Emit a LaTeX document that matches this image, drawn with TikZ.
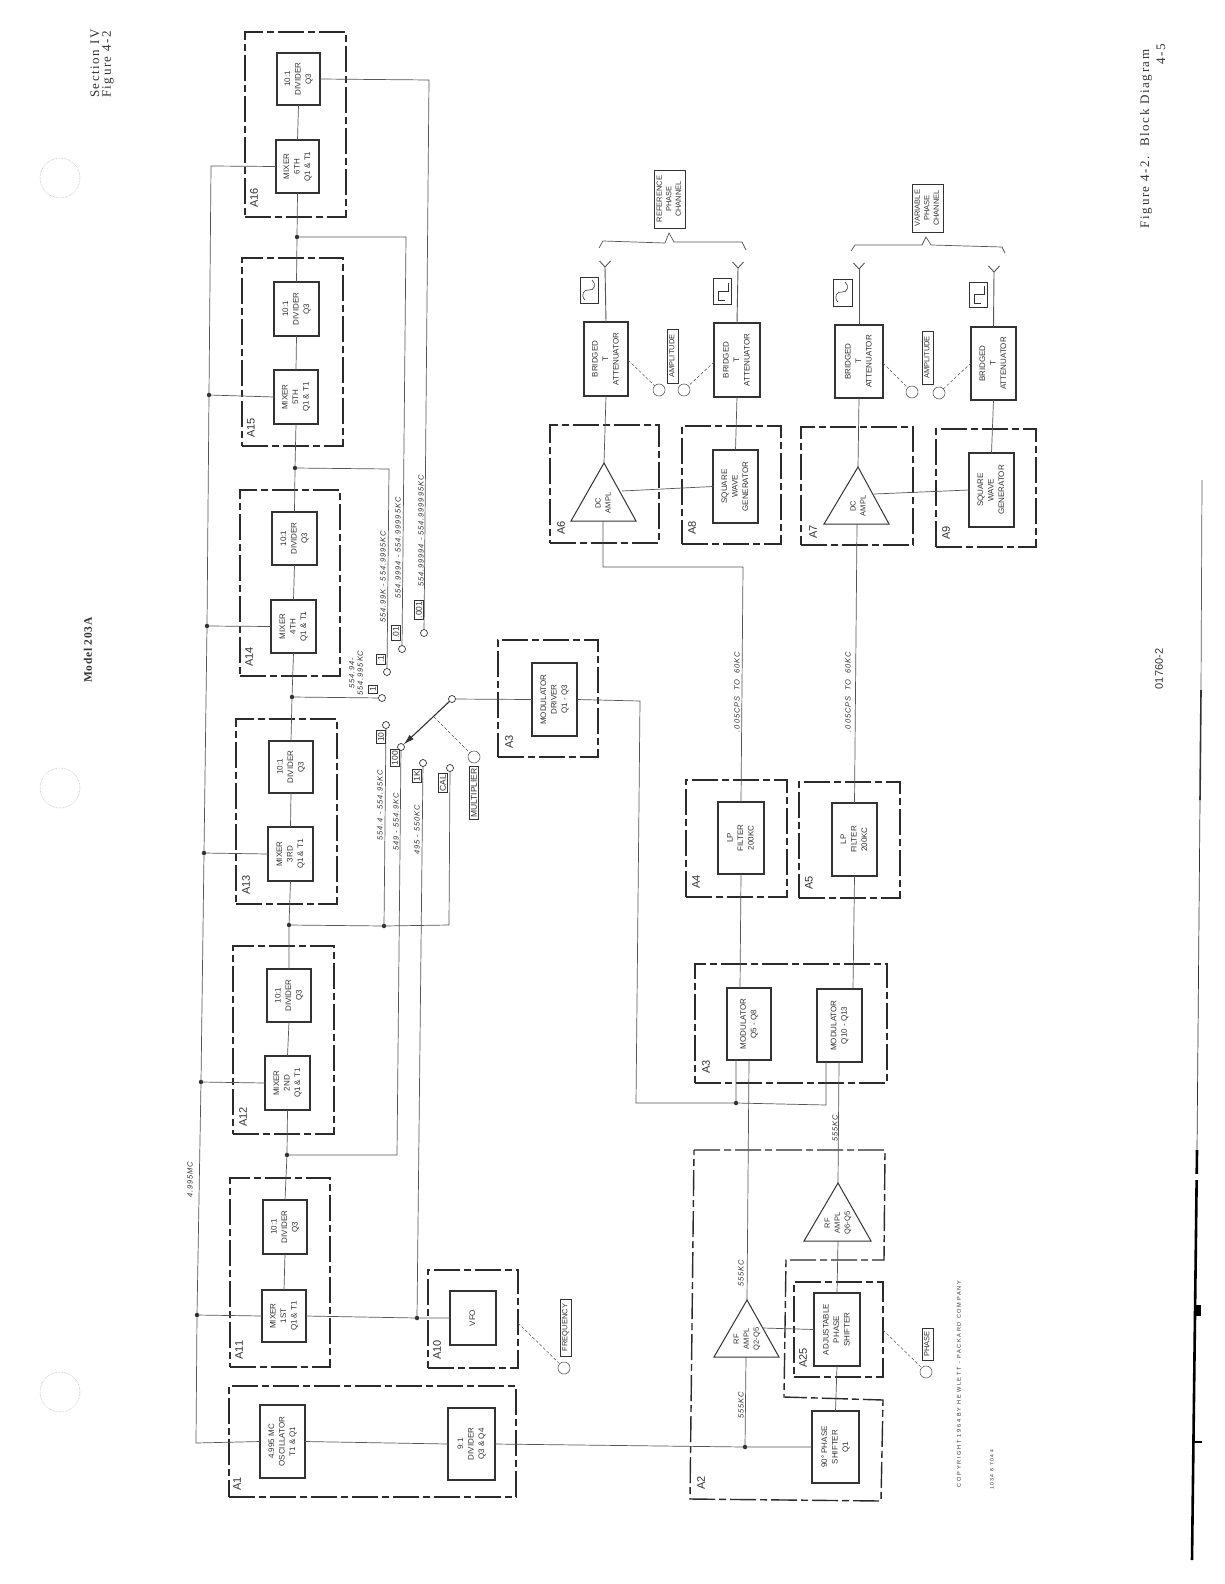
\documentclass[tikz,border=0pt]{standalone}
\usepackage{fontspec}
\setmainfont{Liberation Sans}
\newfontfamily\margfont[LetterSpace=12]{Liberation Serif}
\newfontfamily\modelfont[LetterSpace=6]{Liberation Serif}
\newfontfamily\freqfont[LetterSpace=12]{Liberation Sans}
\newfontfamily\copyfont[LetterSpace=30]{Liberation Sans}
\usetikzlibrary{arrows.meta}
\definecolor{ink}{HTML}{333333}
\definecolor{wire}{HTML}{555555}
\newcommand{\rt}[1]{\rotatebox{90}{\begin{tabular}{@{}c@{}}#1\end{tabular}}}
\newcommand{\bx}[7]{%
  \pgfmathsetmacro\myCx{(#3+#4)/2}\pgfmathsetmacro\myCy{(#5+#6)/2}%
  \pgfmathsetmacro\myW{#4-#3}\pgfmathsetmacro\myH{#6-#5}%
  \node[#1,minimum width=\myW pt,minimum height=\myH pt] (#2) at (\myCx,\myCy) {#7};}
\newcommand{\sinew}[2]{\draw[wave,shift={(#1,#2)}] (-4,10) .. controls (-9,5) and (-5,-1) .. (0,0) .. controls (5,1) and (8,-6) .. (3,-10);}
\newcommand{\squarew}[2]{\draw[wave,shift={(#1,#2)}] (6.5,-8) -- (6.5,0) -- (-4,0) -- (-4,9) -- (3,9);}
\tikzset{
  every node/.style={inner sep=0pt,outer sep=0pt,text=ink},
  blk/.style={draw=ink,fill=white,line width=1.1pt,font=\fontsize{8}{10.5}\selectfont},
  grp/.style={draw=ink!85!black,line width=1.2pt,dash pattern=on 26pt off 4pt on 7pt off 4pt},
  grplab/.style={rotate=90,font=\fontsize{11}{13}\selectfont},
  conn/.style={draw=wire,line width=0.7pt},
  tri/.style={draw=ink,line width=1pt,line join=miter,fill=white},
  dotj/.style={circle,fill=ink,minimum size=4.5pt},
  term/.style={circle,draw=ink,line width=0.7pt,fill=white,minimum size=7pt},
  knob/.style={circle,draw=ink!80,line width=0.6pt,fill=white,minimum size=12pt},
  lab/.style={rotate=90,draw=ink,line width=0.6pt,fill=white,inner sep=1.5pt,font=\fontsize{8.5}{10}\selectfont,align=center},
  plate/.style={draw=ink,line width=0.6pt,font=\fontsize{7.5}{9.5}\selectfont},
  freq/.style={rotate=90,font=\freqfont\itshape\fontsize{7.5}{8.5}\selectfont,align=center},
  intxt/.style={rotate=90,font=\fontsize{7.5}{10}\selectfont,align=center},
  ctl/.style={draw=wire,line width=0.5pt,densely dashed},
  wave/.style={draw=ink,line width=0.6pt},
  marg/.style={rotate=90,font=\margfont\fontsize{13}{15}\selectfont,text=ink,align=left},
  hole/.style={circle,draw=gray!70,line width=0.5pt,densely dotted,minimum size=40pt},
}
\begin{document}
\begin{tikzpicture}[x=1pt,y=-1pt]
\useasboundingbox (0,0) rectangle (1224,1584);
\fill[white] (0,0) rectangle (1224,1584);

% page furniture
\node[hole] (h1) at (60,178) {};
\node[hole] (h2) at (60,788) {};
\node[hole] (h3) at (60,1392) {};
\node[marg,anchor=west] (m1) at (95,98) {Section IV};
\node[marg,anchor=west] (m2) at (108,98) {Figure 4-2};
\node[marg,font=\modelfont\bfseries\fontsize{11.5}{13}\selectfont] (m3) at (88,650) {Model 203A};
\node[marg,anchor=west] (m4) at (1146,228) {Figure 4-2.~~Block Diagram};
\node[marg] (m5) at (1161,54) {4-5};
\node[rotate=90,font=\fontsize{11}{13}\selectfont] (m6) at (1159,669) {01760-2};
\draw[gray!70!black,line width=0.7pt] (1202,480) -- (1201,690);
\draw[ink,line width=1.6pt] (1201,690) -- (1200,800);
\draw[ink,line width=0.7pt] (1200,800) -- (1197,1150);
\draw[black,line width=2.6pt] (1197,1150) -- (1192,1560);
\fill[white] (1193,1174) rectangle (1204,1180);
\fill[black] (1194,1305) rectangle (1201,1316);
\draw[black,line width=1.4pt] (1194,1442) -- (1202,1442);

% groups
\bx{grp}{A16}{245}{346}{32}{217}{}
\bx{grp}{A15}{242}{343}{258}{446}{}
\bx{grp}{A14}{240}{340}{490}{676}{}
\bx{grp}{A13}{236}{337}{719}{904}{}
\bx{grp}{A12}{233}{334}{946}{1134}{}
\bx{grp}{A11}{230}{330}{1178}{1367}{}
\bx{grp}{A10}{428}{518}{1270}{1368}{}
\bx{grp}{A1}{229}{516}{1386}{1497}{}
\bx{grp}{A3d}{498}{598}{640}{757}{}
\bx{grp}{A4}{686}{787}{780}{897}{}
\bx{grp}{A5}{799}{900}{782}{898}{}
\bx{grp}{A3m}{695}{887}{964}{1083}{}
\bx{grp}{A6}{550}{659}{425}{543}{}
\bx{grp}{A8}{682}{781}{426}{544}{}
\bx{grp}{A7}{801}{913}{427}{545}{}
\bx{grp}{A9}{936}{1036}{429}{547}{}
\bx{grp}{A25}{794}{883}{1282}{1377}{}
\draw[grp,line width=1.4pt] (694,1150) -- (885,1150) -- (884,1260) -- (786,1260) -- (784,1397) -- (883,1400) -- (881,1501) -- (690,1499) -- cycle;

\node[grplab] (lA16) at (254,198) {A16};
\node[grplab] (lA15) at (251,428) {A15};
\node[grplab] (lA14) at (249,657) {A14};
\node[grplab] (lA13) at (246,885) {A13};
\node[grplab] (lA12) at (243,1117) {A12};
\node[grplab] (lA11) at (239,1350) {A11};
\node[grplab] (lA10) at (437,1350) {A10};
\node[grplab] (lA1) at (237,1484) {A1};
\node[grplab] (lA3d) at (509,742) {A3};
\node[grplab] (lA4) at (696,882) {A4};
\node[grplab] (lA5) at (809,883) {A5};
\node[grplab] (lA3m) at (706,1067) {A3};
\node[grplab] (lA6) at (561,528) {A6};
\node[grplab] (lA8) at (692,528) {A8};
\node[grplab] (lA7) at (813,532) {A7};
\node[grplab] (lA9) at (946,533) {A9};
\node[grplab] (lA2) at (701,1483) {A2};
\node[grplab] (lA25) at (803,1358) {A25};

% blocks
\bx{blk}{div6}{277}{320}{53}{105}{\rt{10:1\\DIVIDER\\Q3}}
\bx{blk}{mix6}{276}{319}{140}{193}{\rt{MIXER\\6TH\\Q1 \& T1}}
\bx{blk}{div5}{274}{319}{282}{336}{\rt{10:1\\DIVIDER\\Q3}}
\bx{blk}{mix5}{274}{318}{370}{424}{\rt{MIXER\\5TH\\Q1 \& T1}}
\bx{blk}{div4}{272}{317}{512}{565}{\rt{10:1\\DIVIDER\\Q3}}
\bx{blk}{mix4}{271}{316}{600}{653}{\rt{MIXER\\4TH\\Q1 \& T1}}
\bx{blk}{div3}{269}{313}{741}{793}{\rt{10:1\\DIVIDER\\Q3}}
\bx{blk}{mix3}{268}{313}{827}{881}{\rt{MIXER\\3RD\\Q1 \& T1}}
\bx{blk}{div2}{267}{311}{969}{1022}{\rt{10:1\\DIVIDER\\Q3}}
\bx{blk}{mix2}{265}{310}{1056}{1110}{\rt{MIXER\\2ND\\Q1 \& T1}}
\bx{blk}{div1}{263}{307}{1200}{1254}{\rt{10:1\\DIVIDER\\Q3}}
\bx{blk}{mix1}{262}{306}{1290}{1342}{\rt{MIXER\\1ST\\Q1 \& T1}}
\bx{blk}{vfo}{450}{496}{1291}{1345}{\rt{VFO}}
\bx{blk}{osc}{260}{305}{1405}{1478}{\rt{4.995 MC\\OSCILLATOR\\T1 \& Q1}}
\bx{blk}{div9}{448}{495}{1408}{1480}{\rt{9:1\\DIVIDER\\Q3 \& Q4}}
\bx{blk}{drv}{532}{577}{663}{736}{\rt{MODULATOR\\DRIVER\\Q1 - Q3}}
\bx{blk}{fil1}{718}{764}{802}{874}{\rt{LP\\FILTER\\200KC}}
\bx{blk}{fil2}{832}{877}{803}{876}{\rt{LP\\FILTER\\200KC}}
\bx{blk}{mod1}{727}{771}{988}{1060}{\rt{MODULATOR\\Q5 - Q8}}
\bx{blk}{mod2}{817}{862}{989}{1062}{\rt{MODULATOR\\Q10 - Q13}}
\bx{blk}{sq1}{713}{758}{450}{523}{\rt{SQUARE\\WAVE\\GENERATOR}}
\bx{blk}{sq2}{969}{1014}{453}{527}{\rt{SQUARE\\WAVE\\GENERATOR}}
\bx{blk}{att1}{584}{628}{322}{396}{\rt{BRIDGED\\T\\ATTENUATOR}}
\bx{blk}{att2}{714}{760}{323}{397}{\rt{BRIDGED\\T\\ATTENUATOR}}
\bx{blk}{att3}{835}{883}{325}{398}{\rt{BRIDGED\\T\\ATTENUATOR}}
\bx{blk}{att4}{971}{1016}{327}{400}{\rt{BRIDGED\\T\\ATTENUATOR}}
\bx{blk}{adj}{814}{860}{1293}{1366}{\rt{ADJUSTABLE\\PHASE\\SHIFTER}}
\bx{blk}{ps90}{812}{859}{1411}{1483}{\rt{90° PHASE\\SHIFTER\\Q1}}

% triangles
\coordinate (t6a) at (604,463); \coordinate (t6l) at (571,521); \coordinate (t6r) at (636,521);
\coordinate (t6b) at (603,521); \coordinate (t6s) at (622,491);
\draw[tri] (t6a) -- (t6r) -- (t6l) -- cycle;
\node[intxt] (t6t) at (603,503) {DC\\AMPL};
\coordinate (t7a) at (858,467); \coordinate (t7l) at (824,524); \coordinate (t7r) at (889,524);
\coordinate (t7b) at (857,524); \coordinate (t7s) at (874,494);
\draw[tri] (t7a) -- (t7r) -- (t7l) -- cycle;
\node[intxt] (t7t) at (858,506) {DC\\AMPL};
\coordinate (r1a) at (747,1300); \coordinate (r1l) at (714,1357); \coordinate (r1r) at (779,1357);
\coordinate (r1b) at (746,1357); \coordinate (r1s) at (763,1328);
\draw[tri] (r1a) -- (r1r) -- (r1l) -- cycle;
\node[intxt] (r1t) at (747,1339) {RF\\AMPL\\Q2-Q5};
\coordinate (r2a) at (838,1183); \coordinate (r2l) at (804,1241); \coordinate (r2r) at (871,1241);
\coordinate (r2b) at (838,1241);
\draw[tri] (r2a) -- (r2r) -- (r2l) -- cycle;
\node[intxt] (r2t) at (838,1223) {RF\\AMPL\\Q6-Q5};

% junction dots and bus
\node[dotj] (b5) at (209,395) {};
\node[dotj] (b4) at (207,626) {};
\node[dotj] (b3) at (204,853) {};
\node[dotj] (b2) at (201,1082) {};
\node[dotj] (b1) at (197,1315) {};
\coordinate (b6) at (211,166);
\coordinate (b0) at (196,1443);
\draw[conn] (mix6.west) -- (b6) -- (b5) -- (b4) -- (b3) -- (b2) -- (b1) -- (b0) -- (osc.west);
\foreach \i in {1,2,3,4,5} {\draw[conn] (b\i) -- (mix\i.west);}

\node[dotj] (j6) at (297,237) {};
\node[dotj] (j5) at (295,468) {};
\node[dotj] (j4) at (292,697) {};
\node[dotj] (j3) at (289,925) {};
\node[dotj] (j2) at (287,1155) {};
\node[dotj] (j10) at (384,926) {};
\node[dotj] (j1k) at (417,1318) {};
\node[dotj] (jm) at (736,1103) {};
\node[dotj] (jp) at (745,1447) {};

\draw[conn] (div6.south) -- (mix6.north);
\draw[conn] (mix6.south) -- (j6) -- (div5.north);
\draw[conn] (div5.south) -- (mix5.north);
\draw[conn] (mix5.south) -- (j5) -- (div4.north);
\draw[conn] (div4.south) -- (mix4.north);
\draw[conn] (mix4.south) -- (j4) -- (div3.north);
\draw[conn] (div3.south) -- (mix3.north);
\draw[conn] (mix3.south) -- (j3) -- (div2.north);
\draw[conn] (div2.south) -- (mix2.north);
\draw[conn] (mix2.south) -- (j2) -- (div1.north);
\draw[conn] (div1.south) -- (mix1.north);
\draw[conn] (osc.east) -- (div9.west);
\draw[conn] (mix1.east) -- (j1k) -- (vfo.west);

% multiplier switch terminals
\node[term] (t1) at (382,698) {};
\node[term] (t01) at (387,672) {};
\node[term] (t001) at (402,649) {};
\node[term] (t0001) at (424,633) {};
\node[term] (t10) at (386,725) {};
\node[term] (t100) at (401,747) {};
\node[term] (t1k) at (423,763) {};
\node[term] (tcal) at (450,768) {};
\node[term] (sw) at (452,699) {};
\coordinate (c01) at (389,469);
\coordinate (c001) at (406,237);
\coordinate (c0001) at (429,80);
\coordinate (ccal) at (449,925);
\coordinate (c100) at (397,1155);
\draw[conn] (j4) -- (t1);
\draw[conn] (j5) -- (c01) -- (t01);
\draw[conn] (j6) -- (c001) -- (t001);
\draw[conn] (div6.east) -- (c0001) -- (t0001);
\draw[conn] (t10) -- (j10);
\draw[conn] (j3) -- (j10) -- (ccal) -- (tcal);
\draw[conn] (t100) -- (c100) -- (j2);
\draw[conn] (t1k) -- (j1k);
\draw[ink,line width=1.1pt,-{Latex[length=11pt,width=6pt]}] (sw) -- (t100);
\node[knob] (kmul) at (474,757) {};
\coordinate (swm) at (434,717);
\draw[ctl] (swm) -- (kmul);

% modulator wiring
\coordinate (cd1) at (640,701);
\coordinate (cd2) at (636,1103);
\coordinate (m1a) at (736,1060);
\coordinate (cm2) at (826,1105);
\coordinate (m2a) at (826,1062);
\coordinate (m1b) at (749,1060);
\coordinate (m2b) at (839,1062);
\coordinate (m1t) at (740,988);
\coordinate (m2t) at (853,989);
\draw[conn] (sw) -- (drv.west);
\draw[conn] (drv.east) -- (cd1) -- (cd2) -- (jm) -- (m1a);
\draw[conn] (jm) -- (cm2) -- (m2a);
\draw[conn] (m1t) -- (fil1.south);
\draw[conn] (m2t) -- (fil2.south);
\coordinate (ca6a) at (603,567);
\coordinate (ca6b) at (743,567);
\draw[conn] (t6b) -- (ca6a) -- (ca6b) -- (fil1.north);
\draw[conn] (t7b) -- (fil2.north);
\draw[conn] (t6a) -- (att1.south);
\draw[conn] (t7a) -- (att3.south);
\draw[conn] (t6s) -- (sq1.west);
\draw[conn] (t7s) -- (sq2.west);
\draw[conn] (sq1.north) -- (att2.south);
\draw[conn] (sq2.north) -- (att4.south);

% outputs
\coordinate (f1) at (605,267); \coordinate (f2) at (738,268);
\coordinate (f3) at (859,269); \coordinate (f4) at (994,272);
\foreach \n/\a in {f1/att1,f2/att2,f3/att3,f4/att4} {
  \draw[conn,line width=0.9pt] (\a.north) -- (\n);
  \draw[conn,line width=0.9pt] (\n) -- +(-5.5,-6);
  \draw[conn,line width=0.9pt] (\n) -- +(5.5,-6);
}
\bx{plate}{w1}{580}{598}{277}{303}{}
\bx{plate}{w2}{713}{731}{278}{304}{}
\bx{plate}{w3}{833}{852}{279}{306}{}
\bx{plate}{w4}{969}{987}{282}{307}{}
\sinew{589}{290}
\squarew{722}{291}
\sinew{842}{292}
\squarew{978}{294}

% braces
\draw[conn] (599,248) -- (603,241) -- (665,243) -- (669,233) -- (674,242) -- (742,242) -- (746,250);
\draw[conn] (851,251) -- (855,245) -- (922,245) -- (926,237) -- (931,245) -- (1002,247) -- (1005,253);
\bx{plate}{chr}{654}{685}{170}{228}{\rt{REFERENCE\\PHASE\\CHANNEL}}
\bx{plate}{chv}{912}{943}{184}{232}{\rt{VARIABLE\\PHASE\\CHANNEL}}
\bx{plate}{amp1}{667}{678}{329}{383}{\rt{AMPLITUDE}}
\bx{plate}{amp2}{922}{933}{331}{384}{\rt{AMPLITUDE}}

% amplitude controls
\node[knob] (k1) at (659,390) {};
\node[knob] (k2) at (684,390) {};
\node[knob] (k3) at (912,392) {};
\node[knob] (k4) at (939,393) {};
\coordinate (a1) at (628,360); \coordinate (a2) at (714,362);
\coordinate (a3) at (883,363); \coordinate (a4) at (971,363);
\draw[ctl] (a1) -- (k1);
\draw[ctl] (a2) -- (k2);
\draw[ctl] (a3) -- (k3);
\draw[ctl] (a4) -- (k4);

% A2 wiring
\draw[conn] (div9.east) -- (jp) -- (ps90.west);
\draw[conn] (jp) -- (r1b);
\draw[conn] (r1a) -- (m1b);
\draw[conn] (r1s) -- (adj.west);
\draw[conn] (ps90.north) -- (adj.south);
\draw[conn] (adj.north) -- (r2b);
\draw[conn] (r2a) -- (m2b);

% frequency and phase controls
\node[knob] (kf) at (564,1368) {};
\coordinate (af) at (518,1323);
\draw[ctl] (af) -- (kf);
\bx{plate}{lf}{560}{571}{1299}{1356}{\rt{FREQUENCY}}
\node[knob] (kp) at (926,1372) {};
\coordinate (ap) at (883,1330);
\draw[ctl] (ap) -- (kp);
\bx{plate}{lp}{922}{933}{1328}{1360}{\rt{PHASE}}

% small boxed labels
\node[lab] (l1) at (373,689) {1};
\node[lab] (l01) at (381,659) {.1};
\node[lab] (l001) at (396,633) {.01};
\node[lab] (l0001) at (419,610) {.001};
\node[lab] (l10) at (381,737) {10};
\node[lab] (l100) at (395,758) {100};
\node[lab] (l1k) at (417,776) {1K};
\node[lab] (lcal) at (443,783) {CAL};
\node[lab] (lmul) at (474,793) {MULTIPLIER};

% frequency labels
\node[freq] (f01) at (356,673) {554.94-\\554.995KC};
\node[freq] (f02) at (383,577) {554.99K - 554.9995KC};
\node[freq] (f03) at (398,548) {554.9994 - 554.99995KC};
\node[freq] (f04) at (421,531) {554.99994 - 554.999995KC};
\node[freq] (f05) at (380,805) {554.4 - 554.95KC};
\node[freq] (f06) at (396,822) {549 - 554.9KC};
\node[freq] (f07) at (417,830) {495 - 550KC};
\node[freq] (f08) at (190,1180) {4.995MC};
\node[freq] (f09) at (737,692) {.005CPS\ \ TO\ \ 60KC};
\node[freq] (f10) at (848,692) {.005CPS\ \ TO\ \ 60KC};
\node[freq] (f11) at (741,1273) {555KC};
\node[freq] (f12) at (741,1405) {555KC};
\node[freq] (f13) at (835,1128) {555KC};
\node[freq,font=\copyfont\fontsize{5.6}{7}\selectfont] (f14) at (959,1384) {COPYRIGHT 1964 BY HEWLETT - PACKARD COMPANY};
\node[freq,font=\copyfont\fontsize{5}{6}\selectfont] (f15) at (992,1470) {1034 8 7044};
\end{tikzpicture}
\end{document}
